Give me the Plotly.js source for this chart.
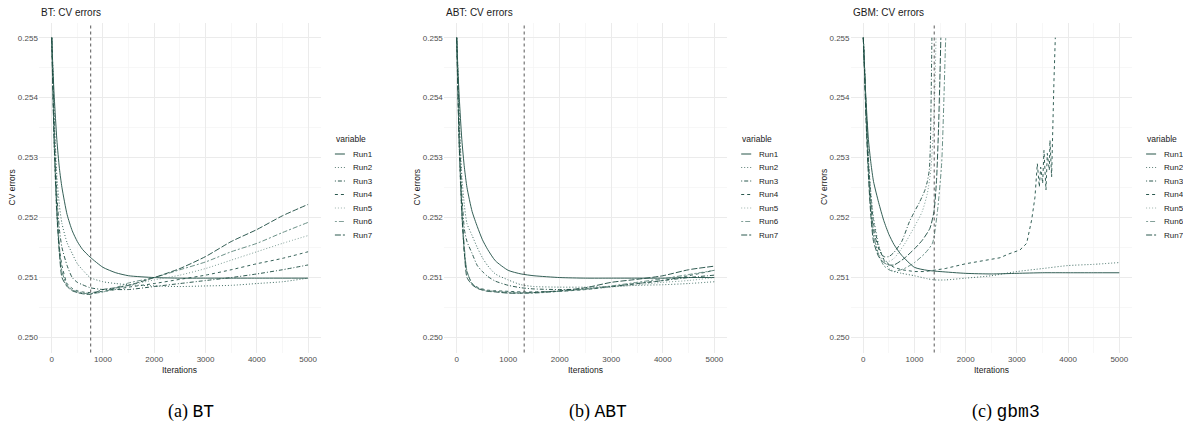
<!DOCTYPE html>
<html><head><meta charset="utf-8">
<script src="https://cdn.plot.ly/plotly-3.0.1.min.js"></script>
<style>html,body{margin:0;padding:0;background:#fff}#chart{width:1183px;height:429px}</style>
</head><body><div id="chart"></div>
<script>
// ---------------- data ----------------
const runNames = ['Run1','Run2','Run3','Run4','Run5','Run6','Run7'];
const panelTitles = ['BT: CV errors','ABT: CV errors','GBM: CV errors'];
const captionLetters = ['(a)','(b)','(c)'];
const captionNames = ['BT','ABT','gbm3'];
const cutoffs = [760, 1310, 1385];
const xTickStep = 1000;
const yTickStep = 0.001;

const iters = [0,25,50,100,150,200,300,400,500,600,750,1000,1250,1500,2000,2500,3000,3500,4000,4500,5000];

// (a) BT
const bt_run1 = [0.2550,0.25445,0.2540,0.2533,0.25282,0.2525,0.25205,0.25178,0.2516,0.25147,0.25134,0.25117,0.25108,0.25103,0.25100,0.25099,0.25099,0.25099,0.25099,0.25099,0.25099];
const bt_run2 = [0.2550,0.2544,0.2537,0.2527,0.2522,0.2519,0.25158,0.2514,0.25123,0.25113,0.25100,0.25093,0.2509,0.25088,0.25086,0.25085,0.25086,0.25087,0.2509,0.25093,0.25099];
const bt_run3 = [0.2550,0.2543,0.2535,0.2524,0.2518,0.2515,0.2512,0.2510,0.25092,0.25088,0.25083,0.2508,0.2508,0.2508,0.25085,0.2509,0.25095,0.2510,0.25106,0.25113,0.25121];
const bt_run4 = [0.2550,0.2541,0.2532,0.2521,0.2515,0.2512,0.2509,0.25082,0.25078,0.25076,0.25075,0.25077,0.2508,0.25084,0.2509,0.25097,0.25104,0.25113,0.25123,0.25132,0.25143];
const bt_run5 = [0.2550,0.2540,0.2531,0.2520,0.2514,0.2511,0.25088,0.2508,0.25077,0.25075,0.25074,0.25076,0.25081,0.25087,0.25096,0.25104,0.25115,0.25129,0.25143,0.25157,0.2517];
const bt_run6 = [0.2550,0.2541,0.2533,0.2522,0.2515,0.2511,0.25087,0.25079,0.25076,0.25074,0.25073,0.25076,0.25083,0.25091,0.2510,0.25113,0.25126,0.25143,0.25157,0.25175,0.25192];
const bt_run7 = [0.2550,0.2540,0.2532,0.2521,0.2514,0.2510,0.25085,0.25078,0.25075,0.25073,0.25072,0.2508,0.25083,0.25087,0.2510,0.25115,0.25135,0.2516,0.2518,0.25203,0.25222];

// (b) ABT
const abt_run1 = [0.2550,0.25445,0.2540,0.2533,0.25283,0.2525,0.2521,0.25185,0.25163,0.25147,0.25128,0.25112,0.25106,0.25103,0.25100,0.25099,0.25099,0.25099,0.25099,0.2510,0.2510];
const abt_run2 = [0.2550,0.2544,0.2537,0.2527,0.2522,0.2519,0.2517,0.2515,0.25133,0.2512,0.25106,0.25096,0.25088,0.25085,0.25084,0.25084,0.25085,0.25087,0.25088,0.2509,0.25093];
const abt_run3 = [0.2550,0.2543,0.2535,0.2524,0.2518,0.2516,0.2514,0.2512,0.2511,0.25102,0.25094,0.25087,0.25083,0.25081,0.2508,0.25081,0.25085,0.2509,0.25095,0.2510,0.25104];
const abt_run4 = [0.2550,0.2541,0.2532,0.2521,0.2514,0.2511,0.2509,0.25084,0.25081,0.25079,0.25078,0.25077,0.25076,0.25076,0.25077,0.2508,0.25085,0.2509,0.25095,0.25103,0.25112];
const abt_run5 = [0.2550,0.2540,0.2531,0.2520,0.2514,0.2511,0.25089,0.25083,0.2508,0.25078,0.25077,0.25076,0.25075,0.25075,0.25077,0.2508,0.25084,0.25088,0.25092,0.25095,0.2510];
const abt_run6 = [0.2550,0.2541,0.2533,0.2522,0.2515,0.2511,0.2509,0.25083,0.2508,0.25078,0.25077,0.25075,0.25074,0.25074,0.25077,0.25081,0.25086,0.25092,0.25098,0.25105,0.25112];
const abt_run7 = [0.2550,0.2540,0.2532,0.2521,0.2514,0.2510,0.25088,0.25082,0.25079,0.25077,0.25076,0.25074,0.25074,0.25075,0.25078,0.25083,0.25092,0.25097,0.25103,0.25113,0.25119];

// (c) GBM
const gbm_iter1 = iters;
const gbm_run1 = [0.2550,0.25445,0.2540,0.2533,0.2529,0.2526,0.25225,0.25195,0.25172,0.25155,0.25137,0.25117,0.25112,0.2511,0.25107,0.25106,0.25107,0.25108,0.25108,0.25108,0.25108];
const gbm_iter2 = [0,25,50,100,150,200,300,400,500,600,750,1000,1250,1400,1600,2000,2500,3000,3500,4000,4500,5000];
const gbm_run2 = [0.2550,0.2545,0.2539,0.2530,0.2524,0.2520,0.25155,0.2513,0.25115,0.2511,0.25107,0.25103,0.25098,0.25096,0.25096,0.25099,0.25103,0.2511,0.25115,0.2512,0.25122,0.25125];
const gbm_iter3 = [0,25,50,100,150,200,300,400,500,600,750,900,1000,1100,1200,1250,1290,1310,1325,1340];
const gbm_run3 = [0.2550,0.2545,0.2539,0.2529,0.2522,0.2518,0.25148,0.25135,0.25135,0.25142,0.2516,0.25193,0.2521,0.25226,0.25245,0.2526,0.2528,0.2532,0.2540,0.2550];
const gbm_iter4 = [0,25,50,100,150,200,300,400,500,600,750,1000,1200,1400,1600,2000,2400,2670,2830,3060,3190,3288,3353,3399,3438,3464,3503,3529,3568,3594,3633,3646,3678,3698,3724,3750];
const gbm_run4 = [0.2550,0.2545,0.2539,0.2529,0.2523,0.2519,0.2515,0.2513,0.25122,0.25117,0.25113,0.2511,0.2511,0.25112,0.25115,0.25123,0.25129,0.25133,0.25139,0.25146,0.25157,0.25196,0.25234,0.2529,0.25251,0.25284,0.25257,0.25312,0.25246,0.25307,0.25279,0.25329,0.25268,0.25351,0.25429,0.2550];
const gbm_iter5 = [0,25,50,100,150,200,300,400,500,600,800,1000,1150,1250,1320,1370,1400,1420];
const gbm_run5 = [0.2550,0.2544,0.2538,0.2528,0.2521,0.2517,0.2514,0.25128,0.25127,0.25132,0.25155,0.25185,0.2521,0.2524,0.2528,0.2535,0.2542,0.2550];
const gbm_iter6 = [0,25,50,100,150,200,300,400,500,600,800,1000,1200,1350,1450,1530,1575,1595,1610];
const gbm_run6 = [0.2550,0.2544,0.2538,0.2528,0.2521,0.2517,0.25138,0.2512,0.25113,0.2511,0.25115,0.25125,0.2514,0.25157,0.25212,0.2529,0.2540,0.2546,0.2550];
const gbm_iter7 = [0,25,50,100,150,200,300,400,500,600,800,1000,1150,1300,1380,1430,1470,1495,1515];
const gbm_run7 = [0.2550,0.2544,0.2537,0.2527,0.2520,0.2516,0.25135,0.25125,0.25121,0.25121,0.25132,0.25148,0.25162,0.25182,0.2521,0.25262,0.2535,0.2543,0.2550];

const panelData = [
  {xs:[iters,iters,iters,iters,iters,iters,iters], ys:[bt_run1,bt_run2,bt_run3,bt_run4,bt_run5,bt_run6,bt_run7]},
  {xs:[iters,iters,iters,iters,iters,iters,iters], ys:[abt_run1,abt_run2,abt_run3,abt_run4,abt_run5,abt_run6,abt_run7]},
  {xs:[gbm_iter1,gbm_iter2,gbm_iter3,gbm_iter4,gbm_iter5,gbm_iter6,gbm_iter7], ys:[gbm_run1,gbm_run2,gbm_run3,gbm_run4,gbm_run5,gbm_run6,gbm_run7]}
];

// ---------------- styling / layout ----------------
const W = 1183, H = 429;
const runDash  = ['solid','1px,2px','1px,2px,4px,2px','3px,3px','1px,2px','2px,2px,5px,2px','6px,2px'];
const runColor = ['#1d4d43','#2b5c52','#17473d','#1d4e44','#6e9189','#5a8379','#17473d'];
const keyColor = ['#93aaa4','#5d7f77','#2a584e','#2a584e','#9db2ac','#83a099','#2a584e'];
const panels = [{x0:38.9,x1:320.9},{x0:443.8,x1:727.2},{x0:850.5,x1:1132.1}];
const yTop = 22.7, yBot = 352.5;
const fx = p => p / W;
const fy = p => 1 - p / H;
const FONT = 'Liberation Sans, Arial, sans-serif';

const traces = [];
const layout = {
  width: W, height: H,
  margin: {l:0, r:0, t:0, b:0},
  paper_bgcolor: '#ffffff', plot_bgcolor: '#ffffff',
  showlegend: false,
  font: {family: FONT, color: '#4d4d4d', size: 8},
  annotations: [], shapes: []
};

panels.forEach((p, i) => {
  const sfx = i === 0 ? '' : String(i + 1);
  const xa = 'xaxis' + sfx, ya = 'yaxis' + sfx;
  layout[xa] = {
    domain: [fx(p.x0), fx(p.x1)], range: [-250, 5250], anchor: 'y' + sfx,
    tickmode: 'linear', tick0: 0, dtick: xTickStep,
    showgrid: true, gridcolor: '#ebebeb', gridwidth: 1,
    minor: {dtick: xTickStep / 2, showgrid: true, gridcolor: '#f3f3f3', gridwidth: 0.7},
    zeroline: false, showline: false, ticks: '',
    tickfont: {family: FONT, size: 8, color: '#4d4d4d'}, fixedrange: true
  };
  layout[ya] = {
    domain: [fy(yBot), fy(yTop)], range: [0.24975, 0.25525], anchor: 'x' + sfx,
    tickmode: 'linear', tick0: 0.25, dtick: yTickStep, tickformat: '.3f',
    showgrid: true, gridcolor: '#ebebeb', gridwidth: 1,
    minor: {dtick: yTickStep / 2, showgrid: true, gridcolor: '#f3f3f3', gridwidth: 0.7},
    zeroline: false, showline: false, ticks: '',
    tickfont: {family: FONT, size: 8, color: '#4d4d4d'}, fixedrange: true
  };
  const d = panelData[i];
  d.ys.forEach((yv, r) => {
    traces.push({
      type: 'scatter', mode: 'lines', name: runNames[r],
      x: d.xs[r], y: yv, xaxis: 'x' + sfx, yaxis: 'y' + sfx,
      line: {color: runColor[r], width: 0.9, dash: runDash[r],
             shape: (i === 2 && r === 3) ? 'linear' : 'spline', smoothing: 0.6},
      hoverinfo: 'skip'
    });
  });
  // cutoff vertical line
  layout.shapes.push({type: 'line', xref: 'x' + sfx, yref: 'y' + sfx + ' domain',
    x0: cutoffs[i], x1: cutoffs[i], y0: 0, y1: 1,
    line: {color: '#444444', width: 0.9, dash: '3px,3px'}});
  // panel title
  layout.annotations.push({text: panelTitles[i], xref: 'paper', yref: 'paper',
    x: fx(p.x0), y: fy(13), xanchor: 'left', yanchor: 'middle', showarrow: false,
    font: {family: FONT, size: 10, color: '#1a1a1a'}});
  // axis titles
  layout.annotations.push({text: 'Iterations', xref: 'paper', yref: 'paper',
    x: fx((p.x0 + p.x1) / 2), y: fy(370), xanchor: 'center', yanchor: 'middle', showarrow: false,
    font: {family: FONT, size: 8.5, color: '#1a1a1a'}});
  layout.annotations.push({text: 'CV errors', xref: 'paper', yref: 'paper', textangle: -90,
    x: fx(p.x0 - 27), y: fy((yTop + yBot) / 2), xanchor: 'center', yanchor: 'middle', showarrow: false,
    font: {family: FONT, size: 8.5, color: '#1a1a1a'}});
  // manual legend
  const lx = p.x1 + 13;
  layout.annotations.push({text: 'variable', xref: 'paper', yref: 'paper',
    x: fx(lx), y: fy(139), xanchor: 'left', yanchor: 'middle', showarrow: false,
    font: {family: FONT, size: 8.5, color: '#1a1a1a'}});
  runNames.forEach((nm, r) => {
    const ry = 154 + r * 13.5;
    layout.shapes.push({type: 'line', xref: 'paper', yref: 'paper',
      x0: fx(lx + 1), x1: fx(lx + 11), y0: fy(ry), y1: fy(ry),
      line: {color: keyColor[r], width: r === 0 ? 2 : 1, dash: runDash[r]}});
    layout.annotations.push({text: nm, xref: 'paper', yref: 'paper',
      x: fx(lx + 17), y: fy(ry), xanchor: 'left', yanchor: 'middle', showarrow: false,
      font: {family: FONT, size: 8, color: '#1a1a1a'}});
  });
});

// captions
const capCenters = [191, 598, 1006];
capCenters.forEach((cx, i) => {
  layout.annotations.push({
    text: captionLetters[i] + ' <span style="font-family:Liberation Mono, DejaVu Sans Mono, monospace">' + captionNames[i] + '</span>',
    xref: 'paper', yref: 'paper', x: fx(cx), y: fy(411), xanchor: 'center', yanchor: 'middle',
    showarrow: false, font: {family: 'Liberation Serif, DejaVu Serif, serif', size: 18, color: '#000000'}
  });
});

Plotly.newPlot('chart', traces, layout, {staticPlot: true, displayModeBar: false});
</script>
</body></html>
